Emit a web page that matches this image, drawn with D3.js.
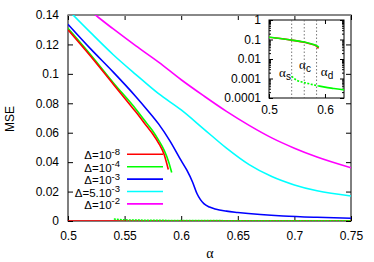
<!DOCTYPE html>
<html>
<head>
<meta charset="utf-8">
<script src="https://cdn.jsdelivr.net/npm/d3@7"></script>
<style>
body { margin: 0; background: #fff; }
text { font-family: "Liberation Sans", Arial, sans-serif; }
</style>
</head>
<body>
<script>
// Data
const alphaTicks = [0.5, 0.55, 0.6, 0.65, 0.7, 0.75];
const mseTicks = [0, 0.02, 0.04, 0.06, 0.08, 0.1, 0.12, 0.14];
const insetXTicks = [0.5, 0.6];
const insetYTicks = [1, 0.1, 0.01, 0.001, 0.0001];
const legendBase = ["Δ=10", "Δ=10", "Δ=10", "Δ=5.10", "Δ=10"];
const legendExp = ["-8", "-4", "-3", "-3", "-2"];
const colors = ["#ff0000", "#00ff00", "#0000ff", "#00ffff", "#ff00ff"];

const redUpper = [[0.5, 0.130], [0.52, 0.112], [0.54, 0.093], [0.56, 0.074], [0.57, 0.064],
    [0.575, 0.059], [0.58, 0.053], [0.585, 0.045], [0.5886, 0.035]];
const greenUpper = [[0.5, 0.131], [0.52, 0.113], [0.54, 0.094], [0.56, 0.076], [0.57, 0.066],
    [0.575, 0.061], [0.58, 0.055], [0.585, 0.048], [0.589, 0.040], [0.5916, 0.033]];
const blueCurve = [[0.5, 0.1337], [0.52, 0.117], [0.54, 0.1012], [0.56, 0.0845], [0.57, 0.0755],
    [0.58, 0.066], [0.59, 0.0545], [0.6, 0.041], [0.605, 0.0345], [0.61, 0.0265], [0.614, 0.0185],
    [0.617, 0.0145], [0.62, 0.0118], [0.625, 0.0095], [0.63, 0.0082], [0.64, 0.0067], [0.65, 0.0058],
    [0.67, 0.0044], [0.69, 0.0034], [0.72, 0.0025], [0.75, 0.0019]];
const cyanCurve = [[0.5, 0.1435], [0.52, 0.128], [0.54, 0.113], [0.56, 0.0995], [0.58, 0.0865],
    [0.6, 0.0755], [0.62, 0.0625], [0.64, 0.0495], [0.66, 0.0383], [0.68, 0.0302], [0.7, 0.0245],
    [0.72, 0.0205], [0.75, 0.017]];
const magentaCurve = [[0.5, 0.1545], [0.52, 0.1425], [0.54, 0.1305], [0.56, 0.119], [0.58, 0.108],
    [0.6, 0.096], [0.62, 0.085], [0.64, 0.0745], [0.66, 0.065], [0.68, 0.0565], [0.7, 0.0495],
    [0.72, 0.0435], [0.75, 0.0362]];
const redLower = [[0.5, 0], [0.75, 0]];
const greenLowerDashed = [[0.5405, 0.0013], [0.545, 0.001], [0.55, 0.0008], [0.56, 0.00065],
    [0.57, 0.00055], [0.58, 0.00047], [0.588, 0.00042]];
const greenLowerSolid = [[0.588, 0.00042], [0.6, 0.00036], [0.615, 0.00031], [0.634, 0.00026],
    [0.65, 0.00023], [0.7, 0.00016], [0.75, 0.00012]];
const transitions = [["s", 0.5405], ["c", 0.563], ["d", 0.585]];

const W = 374, H = 262;
const svg = d3.select("body").append("svg")
    .attr("width", W)
    .attr("height", H)
    .style("background", "#fff");

// Main scales
const x = d3.scaleLinear().domain([0.5, 0.75]).range([68, 351]);
const y = d3.scaleLinear().domain([0, 0.14]).range([221, 15]);

svg.append("clipPath").attr("id", "clip-main")
    .append("rect").attr("x", 68).attr("y", 15).attr("width", 283).attr("height", 206);

const line = d3.line().x(d => x(d[0])).y(d => y(d[1])).curve(d3.curveMonotoneX);

// axes with inward ticks
function styleAxis(g) {
    g.select(".domain").remove();
    g.selectAll("line").attr("stroke", "#000");
    g.selectAll("text").style("font-size", "12px").attr("fill", "#000");
}

svg.append("g")
    .attr("transform", "translate(68,0)")
    .call(d3.axisLeft(y).tickValues(mseTicks).tickFormat(d => d).tickSize(-5).tickPadding(9))
    .call(styleAxis);
svg.append("g")
    .attr("transform", "translate(351,0)")
    .call(d3.axisRight(y).tickValues(mseTicks).tickFormat("").tickSize(-5))
    .call(styleAxis);
svg.append("g")
    .attr("transform", "translate(0,221)")
    .call(d3.axisBottom(x).tickValues(alphaTicks).tickFormat(d => d).tickSize(-5).tickPadding(10))
    .call(styleAxis);
svg.append("g")
    .attr("transform", "translate(0,15)")
    .call(d3.axisTop(x).tickValues(alphaTicks).tickFormat("").tickSize(-5))
    .call(styleAxis);

// frame
svg.append("rect")
    .attr("x", 68).attr("y", 15).attr("width", 283).attr("height", 206)
    .attr("fill", "none").attr("stroke", "#000").attr("stroke-width", 1);
svg.append("line")
    .attr("x1", 68).attr("x2", 351).attr("y1", 15).attr("y2", 15)
    .attr("stroke", "#888").attr("stroke-width", 2);

// curves
const plot = svg.append("g").attr("clip-path", "url(#clip-main)");
plot.append("path").datum(redLower).attr("d", line)
    .attr("fill", "none").attr("stroke", colors[0]).attr("stroke-width", 1.5);
plot.append("path").datum(greenLowerDashed).attr("d", line)
    .attr("fill", "none").attr("stroke", colors[1]).attr("stroke-width", 1.5)
    .attr("stroke-dasharray", "2,1");
plot.append("path").datum(greenLowerSolid).attr("d", line)
    .attr("fill", "none").attr("stroke", colors[1]).attr("stroke-width", 1.5)
    .attr("stroke-dasharray", "2,1");
[magentaCurve, cyanCurve, blueCurve, greenUpper, redUpper].forEach((c, i) => {
    plot.append("path").datum(c).attr("d", line)
        .attr("fill", "none").attr("stroke", colors[4 - i]).attr("stroke-width", 1.6);
});

// axis titles
svg.append("text")
    .attr("transform", "translate(14,119) rotate(-90)")
    .attr("text-anchor", "middle")
    .style("font-size", "12px")
    .text("MSE");
svg.append("text")
    .attr("x", 210).attr("y", 258)
    .attr("text-anchor", "middle")
    .style("font-size", "14px")
    .style("font-family", "'Liberation Serif', serif")
    .text("α");

// legend
const legend = svg.append("g").selectAll("g")
    .data(legendBase)
    .join("g")
    .attr("transform", (d, i) => `translate(0,${154.3 + i * 12.4})`);
legend.append("line")
    .attr("x1", 127).attr("x2", 163)
    .attr("stroke", (d, i) => colors[i]).attr("stroke-width", 1.6);
const lt = legend.append("text")
    .attr("x", 120).attr("y", 5)
    .attr("text-anchor", "end")
    .style("font-size", "11.5px");
lt.append("tspan").text(d => d);
lt.append("tspan").attr("dy", -4.5).style("font-size", "9.5px").text((d, i) => legendExp[i]);

// inset
const xi = d3.scaleLinear().domain([0.5, 0.634]).range([269, 344]);
const yi = d3.scaleLog().domain([1e-4, 1]).range([98, 20]);
const lineI = d3.line().x(d => xi(d[0])).y(d => yi(d[1])).curve(d3.curveMonotoneX);

svg.append("rect")
    .attr("x", 269).attr("y", 20).attr("width", 75).attr("height", 78)
    .attr("fill", "#fff");
svg.append("clipPath").attr("id", "clip-inset")
    .append("rect").attr("x", 269).attr("y", 20).attr("width", 75).attr("height", 78);

const minorTicks = [];
[1e-4, 1e-3, 1e-2, 1e-1].forEach(b => {
    for (let k = 2; k <= 9; k++) minorTicks.push(b * k);
});

svg.append("g")
    .attr("transform", "translate(269,0)")
    .call(d3.axisLeft(yi).tickValues(insetYTicks).tickFormat(d => d).tickSize(-4).tickPadding(8))
    .call(styleAxis);
svg.append("g")
    .attr("transform", "translate(269,0)")
    .call(d3.axisLeft(yi).tickValues(minorTicks).tickFormat("").tickSize(-2))
    .call(styleAxis);
svg.append("g")
    .attr("transform", "translate(344,0)")
    .call(d3.axisRight(yi).tickValues(insetYTicks).tickFormat("").tickSize(-4))
    .call(styleAxis);
svg.append("g")
    .attr("transform", "translate(344,0)")
    .call(d3.axisRight(yi).tickValues(minorTicks).tickFormat("").tickSize(-2))
    .call(styleAxis);
svg.append("g")
    .attr("transform", "translate(0,98)")
    .call(d3.axisBottom(xi).tickValues(insetXTicks).tickFormat(d => d).tickSize(-4).tickPadding(7))
    .call(styleAxis);
svg.append("g")
    .attr("transform", "translate(0,20)")
    .call(d3.axisTop(xi).tickValues(insetXTicks).tickFormat("").tickSize(-4))
    .call(styleAxis);

svg.append("rect")
    .attr("x", 269).attr("y", 20).attr("width", 75).attr("height", 78)
    .attr("fill", "none").attr("stroke", "#000").attr("stroke-width", 1);

const inset = svg.append("g").attr("clip-path", "url(#clip-inset)");
transitions.forEach(t => {
    inset.append("line")
        .attr("x1", xi(t[1])).attr("x2", xi(t[1]))
        .attr("y1", 20).attr("y2", 98)
        .attr("stroke", "#555").attr("stroke-width", 0.8)
        .attr("stroke-dasharray", "1.5,2");
});
inset.append("path").datum(redUpper).attr("d", lineI)
    .attr("fill", "none").attr("stroke", colors[0]).attr("stroke-width", 1.6);
inset.append("path").datum(greenUpper.filter(d => d[0] < 0.59)).attr("d", lineI)
    .attr("fill", "none").attr("stroke", colors[1]).attr("stroke-width", 1.6);
inset.append("path").datum(greenLowerDashed).attr("d", lineI)
    .attr("fill", "none").attr("stroke", colors[1]).attr("stroke-width", 1.6)
    .attr("stroke-dasharray", "2,1.5");
inset.append("path").datum(greenLowerSolid).attr("d", lineI)
    .attr("fill", "none").attr("stroke", colors[1]).attr("stroke-width", 1.6);

// transition labels
const labelPos = { s: [285, 77], c: [305, 69], d: [327, 76] };
transitions.forEach(t => {
    const p = labelPos[t[0]];
    const tx = svg.append("text")
        .attr("x", p[0]).attr("y", p[1])
        .attr("text-anchor", "middle")
        .style("font-size", "13px");
    tx.append("tspan").style("font-family", "'Liberation Serif', serif").text("α");
    tx.append("tspan").attr("dy", 3).style("font-size", "10px").text(t[0]);
});
</script>
</body>
</html>
